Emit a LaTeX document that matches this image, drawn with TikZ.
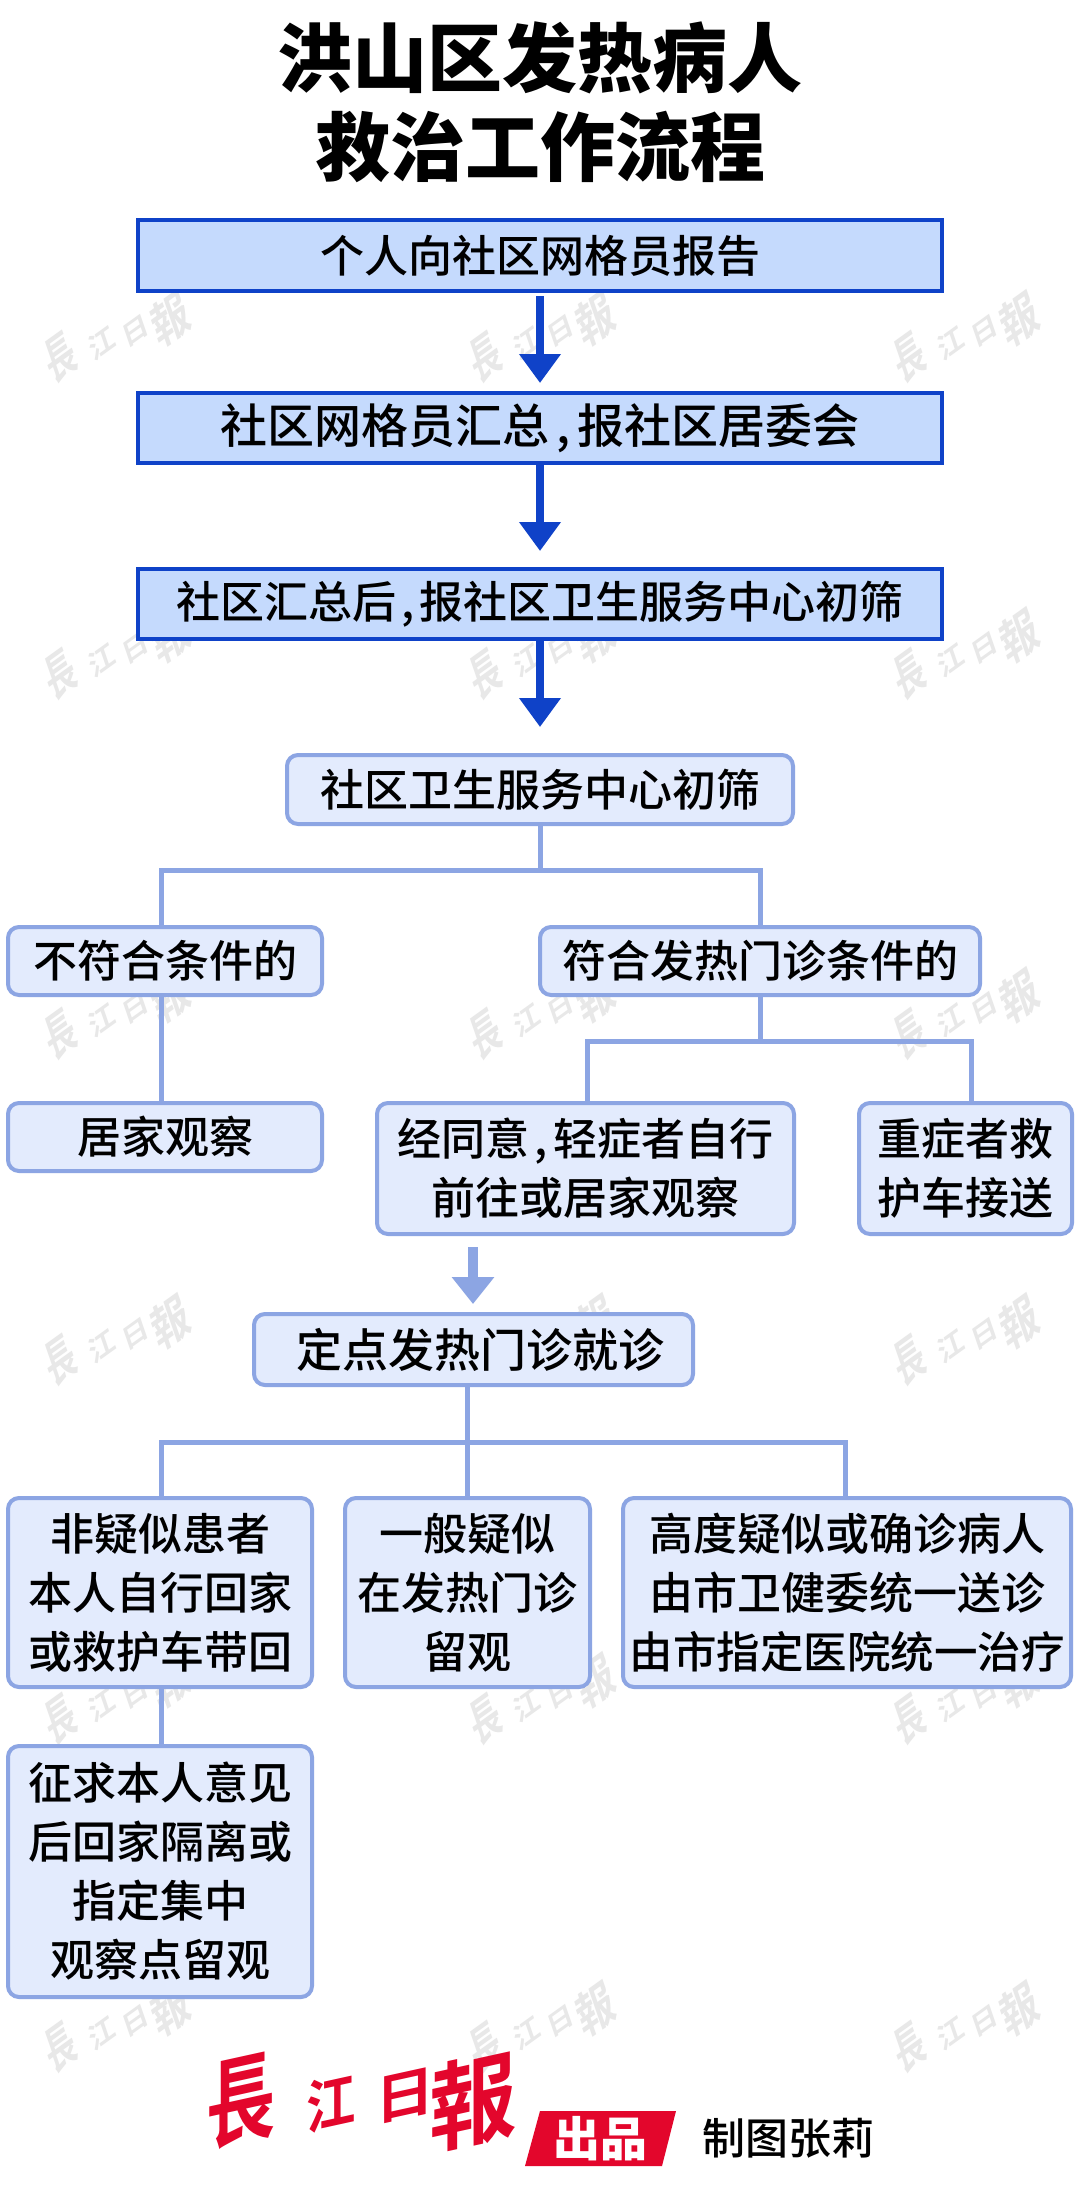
\documentclass[tikz,border=0pt]{standalone}
\usepackage{fontspec}
\usetikzlibrary{arrows.meta}
\setmainfont{Noto Sans CJK SC Medium}
\newfontfamily\heavyf{Noto Sans CJK SC Black}
\newfontfamily\tcf{Noto Sans CJK TC Bold}
\definecolor{darkb}{HTML}{0F42C8}
\definecolor{darkf}{HTML}{C5DAFD}
\definecolor{lightb}{HTML}{8CA5E3}
\definecolor{lightf}{HTML}{E3EBFD}
\definecolor{logored}{HTML}{E3062C}
\definecolor{wm}{HTML}{E8E8E8}
\newcommand{\fsz}[2]{\fontsize{#1}{#2}\selectfont}
\newcommand{\cma}{\hspace{5pt},\hspace{5pt}}
\tikzset{
  x=1pt,y=-1pt,
  darkbox/.style={draw=darkb,fill=darkf,line width=4pt,inner sep=0pt,align=center,font=\fsz{44}{59}},
  lightbox/.style={draw=lightb,fill=lightf,line width=4pt,rounded corners=11pt,inner sep=0pt,align=center,font=\fsz{44}{59}},
  darkarrow/.style={draw=darkb,line width=8pt,-{Triangle[width=40pt,length=29pt]}},
  lightarrow/.style={draw=lightb,line width=9.5pt,-{Triangle[width=41pt,length=27pt]}},
  link/.style={draw=lightb,line width=5pt},
  wmchar/.style={text=wm,inner sep=0pt,transform shape,yslant=.3},
  logochar/.style={text=logored,inner sep=0pt,yslant=.22},
}
\newcommand{\boxat}[7]{\node[#1,minimum width=#4pt-#2pt-2pt,minimum height=#5pt-#3pt-2pt] (#6) at ({(#2+#4)/2},{(#3+#5)/2}) {#7};}
\newcommand{\wmark}[3]{\begin{scope}[shift={(#1,#2)},rotate=19]
  \node[wmchar,font=\tcf\fsz{44}{44},xscale=.72,yscale=1.1] (wm#3a) at (-58,0) {長};
  \node[wmchar,font=\tcf\fsz{28}{28}] (wm#3b) at (-14,0) {江};
  \node[wmchar,font=\tcf\fsz{26}{26},xscale=1.1] (wm#3c) at (22,0) {日};
  \node[wmchar,font=\tcf\fsz{44}{44},xscale=.9,yscale=1.1] (wm#3d) at (58,0) {報};
\end{scope}}
\begin{document}
\begin{tikzpicture}
\useasboundingbox (0,0) rectangle (1080,2191);
\fill[white] (0,0) rectangle (1080,2191);
% watermarks
\foreach \yy [count=\i] in {338,655,1015,1341,1700,2028}{
  \foreach \xx [count=\j] in {115,540,964}{
    \wmark{\xx}{\yy}{\i\j}
  }
}
% title
\node[inner sep=0pt,font=\heavyf\fsz{75}{75}] (title1) at (540,58) {洪山区发热病人};
\node[inner sep=0pt,font=\heavyf\fsz{75}{75}] (title2) at (540,147) {救治工作流程};
% dark boxes
\boxat{darkbox}{137}{219}{943}{292}{b1}{个人向社区网格员报告}
\boxat{darkbox}{137}{392}{943}{464}{b2}{\fsz{47}{59}社区网格员汇总\hspace{7pt},\hspace{7pt}报社区居委会}
\boxat{darkbox}{137}{568}{943}{640}{b3}{社区汇总后\cma 报社区卫生服务中心初筛}
% light boxes
\boxat{lightbox}{286}{754}{794}{825}{c}{社区卫生服务中心初筛}
\boxat{lightbox}{7}{926}{323}{996}{no}{不符合条件的}
\boxat{lightbox}{539}{926}{981}{996}{fit}{符合发热门诊条件的}
\boxat{lightbox}{7}{1102}{323}{1172}{home}{居家观察}
\boxat{lightbox}{376}{1102}{795}{1235}{mild}{经同意\cma 轻症者自行\\前往或居家观察}
\boxat{lightbox}{858}{1102}{1073}{1235}{sev}{重症者救\\护车接送}
\boxat{lightbox}{253}{1313}{694}{1386}{fix}{\hspace{14pt}\fsz{46}{59}定点发热门诊就诊}
\boxat{lightbox}{7}{1497}{313}{1688}{a}{非疑似患者\\本人自行回家\\或救护车带回}
\boxat{lightbox}{344}{1497}{591}{1688}{bb}{一般疑似\\在发热门诊\\留观}
\boxat{lightbox}{622}{1497}{1072}{1688}{cc}{高度疑似或确诊病人\\由市卫健委统一送诊\\{\fsz{43.5}{59}由市指定医院统一治疗}}
\boxat{lightbox}{7}{1745}{313}{1998}{d}{征求本人意见\\后回家隔离或\\指定集中\\观察点留观}
% dark arrows
\draw[darkarrow,shorten <=3pt,shorten >=8pt] (b1.south) -- (b2.north);
\draw[darkarrow,shorten >=16pt] (b2.south) -- (b3.north);
\draw[darkarrow,shorten >=26pt] (b3.south) -- (c.north);
% tree links
\coordinate (j1) at (540,870);
\coordinate (j1l) at (161,870);
\coordinate (j1r) at (760,870);
\draw[link] (c.south) -- (j1);
\draw[link] (no.north -| j1l) -- (j1l) -- (j1r) -- (fit.north -| j1r);
\draw[link] (no.south -| j1l) -- (home.north -| j1l);
\coordinate (j2l) at (587,1041);
\coordinate (j2m) at (760,1041);
\coordinate (j2r) at (971,1041);
\draw[link] (fit.south -| j2m) -- (j2m);
\draw[link] (mild.north -| j2l) -- (j2l) -- (j2r) -- (sev.north -| j2r);
\coordinate (la1) at (473,1247);
\coordinate (la2) at (473,1304);
\draw[lightarrow] (la1) -- (la2);
\coordinate (j3l) at (161,1442);
\coordinate (j3m) at (467,1442);
\coordinate (j3r) at (845,1442);
\draw[link] (fix.south -| j3m) -- (bb.north -| j3m);
\draw[link] (a.north -| j3l) -- (j3l) -- (j3r) -- (cc.north -| j3r);
\draw[link] (a.south -| j3l) -- (d.north -| j3l);
% logo
\node[logochar,font=\tcf\fsz{92}{92},xscale=.75,yscale=1.05] (l1) at (241,2101) {長};
\node[logochar,font=\tcf\fsz{58}{58},xscale=.85] (l2) at (331,2103) {江};
\node[logochar,font=\tcf\fsz{54}{54},xscale=1.1] (l3) at (405,2096) {日};
\node[logochar,font=\tcf\fsz{92}{92},xscale=.95,yscale=1.05] (l4) at (473,2101) {報};
\fill[logored] (540,2111) -- (676,2111) -- (662,2166) -- (525,2166) -- cycle;
\node[inner sep=0pt,text=white,font=\heavyf\fsz{47}{47}] (chu) at (600,2139) {出品};
\node[inner sep=0pt,font=\fsz{43}{43}] (credit) at (788,2138) {制图张莉};
\end{tikzpicture}
\end{document}
